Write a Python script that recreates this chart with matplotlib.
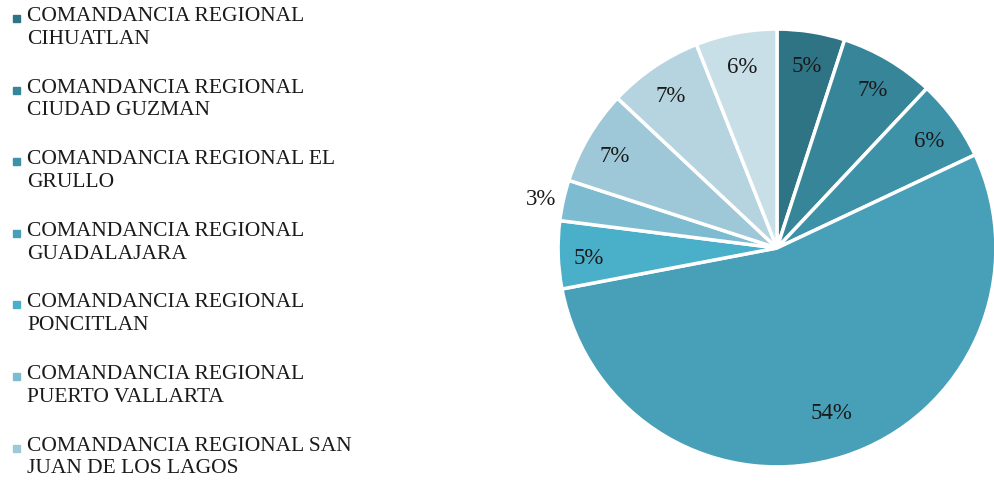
import matplotlib.pyplot as plt
from matplotlib.patches import Rectangle

# data
labels = [
    "COMANDANCIA REGIONAL\nCIHUATLAN",
    "COMANDANCIA REGIONAL\nCIUDAD GUZMAN",
    "COMANDANCIA REGIONAL EL\nGRULLO",
    "COMANDANCIA REGIONAL\nGUADALAJARA",
    "COMANDANCIA REGIONAL\nPONCITLAN",
    "COMANDANCIA REGIONAL\nPUERTO VALLARTA",
    "COMANDANCIA REGIONAL SAN\nJUAN DE LOS LAGOS",
    "COMANDANCIA REGIONAL\nTEPATITLAN",
    "COMANDANCIA REGIONAL\nZAPOTLANEJO",
]
values = [5, 7, 6, 54, 5, 3, 7, 7, 6]
colors = ["#2f7485", "#378598", "#3d92a8", "#47a0b8", "#4aafc8",
          "#7dbcd0", "#9ec8d8", "#b5d4e0", "#c9dfe8"]
shown_in_legend = 7

plt.rcParams['font.family'] = ['Liberation Serif', 'DejaVu Serif']

fig = plt.figure(figsize=(9.94, 4.90), dpi=100)

# pie, centre ~ (777, 248) px, radius ~ 220 px
cx, cy, r = 777, 248, 220
ax = fig.add_axes([(cx - r) / 994, 1 - (cy + r) / 490, 2 * r / 994, 2 * r / 490])
wedges, texts, autotexts = ax.pie(
    values, colors=colors, startangle=90, counterclock=False,
    autopct='%1.0f%%', pctdistance=0.86,
    wedgeprops=dict(edgecolor='white', linewidth=2.5),
    textprops=dict(fontsize=16.5, color='#1a1a1a'))
ax.set_aspect('equal')
ax.set_xlim(-1.005, 1.005)
ax.set_ylim(-1.005, 1.005)

# labels sit a little lower than the default spot
for t in autotexts:
    x, y = t.get_position()
    t.set_position((x, y - 0.02))
# big slice label a bit further in
x, y = autotexts[3].get_position()
autotexts[3].set_position((x * 0.93, y * 0.9))
# small slice label sits outside
autotexts[5].set_position((-1.01, 0.22))
autotexts[5].set_ha('right')

# legend drawn by hand (only first entries are visible)
y0 = 19
step = 71.6
for i in range(shown_in_legend):
    y = y0 + i * step
    fig.patches.append(Rectangle((13 / 994, 1 - (y + 3) / 490), 7 / 994, 7 / 490,
                                 transform=fig.transFigure, color=colors[i]))
    fig.text(27 / 994, 1 - (y - 12) / 490, labels[i], fontsize=15.5,
             va='top', ha='left', color='#1a1a1a', linespacing=1.27)

fig.savefig('out.png', dpi=100)
